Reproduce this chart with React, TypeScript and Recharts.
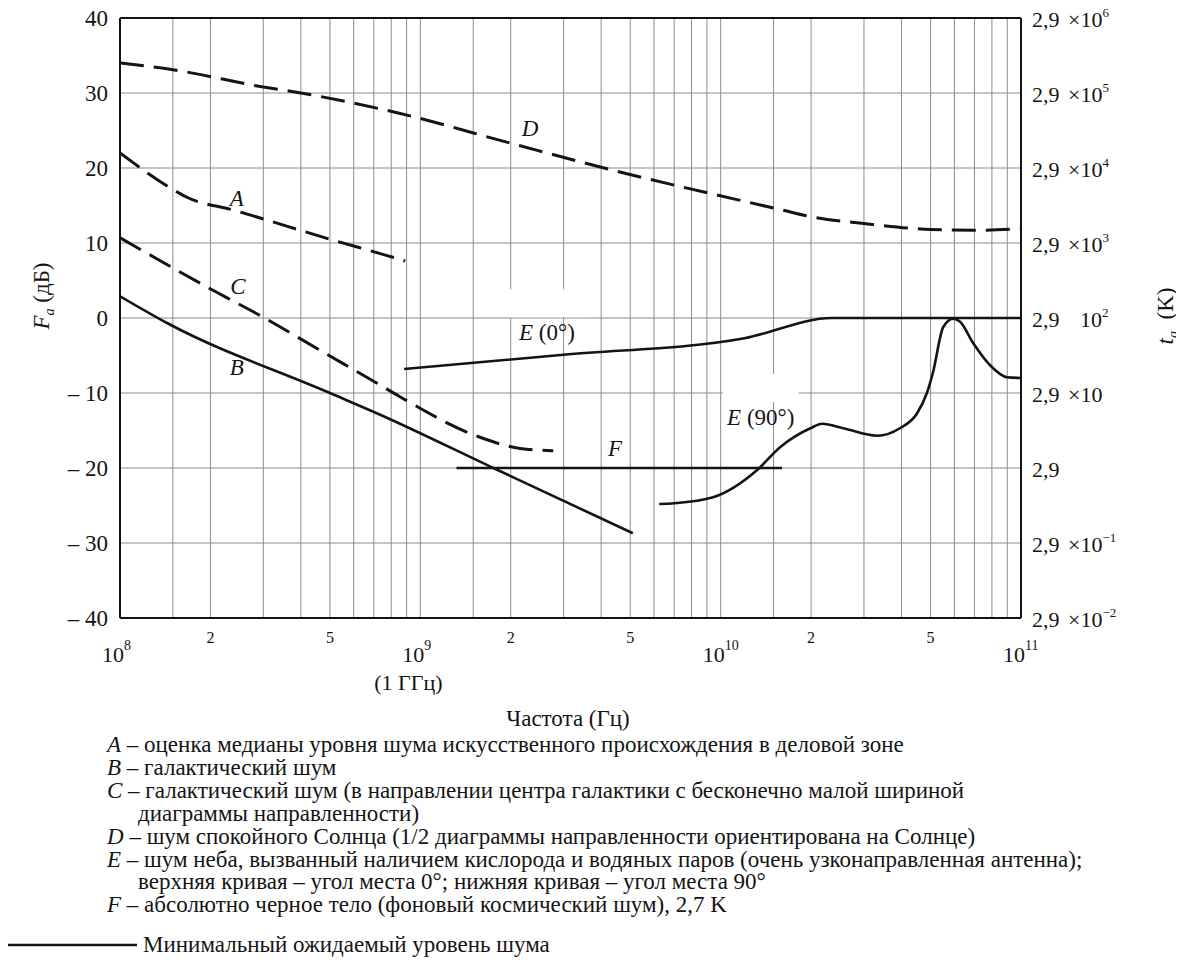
import React from 'react'
import { LineChart, Line, XAxis, YAxis, CartesianGrid, ReferenceLine, ReferenceDot } from 'recharts'

const SERIF = 'Liberation Serif'
const INK = '#141414'

// [frequency Hz, Fa dB]
const curveA = [[1e8, 22], [1.55e8, 16.8], [1.67e8, 16.1], [2.38e8, 14.4], [5.1e8, 10.4], [8.1e8, 8.1], [8.9e8, 7.6]]
const curveB = [[1e8, 2.9], [1.44e8, -0.7], [5e8, -10], [7.35e8, -12.9], [1.75e9, -20], [5.1e9, -28.7]]
const curveC = [[1e8, 10.7], [2.04e8, 3.7], [3e8, 0.1], [4.63e8, -4.3], [7.18e8, -8.7], [8.55e8, -10.5], [1.58e9, -15.9], [2.15e9, -17.4], [2.77e9, -17.7]]
const curveD = [[1e8, 34], [1.5e8, 33.1], [3e8, 30.8], [4e8, 30], [8.5e8, 27.3], [2e9, 23.3], [4e9, 20.1], [1.6e10, 14.4], [2e10, 13.5], [3e10, 12.6], [5e10, 11.8], [7e10, 11.7], [1e11, 11.9]]
const curveE0 = [[8.83e8, -6.8], [3e9, -4.9], [1.2e10, -2.7], [2.35e10, 0], [5e10, 0], [1e11, 0]]
const curveE90 = [[6.24e9, -24.8], [7e9, -24.7], [9.44e9, -23.9], [1.32e10, -20.3], [1.58e10, -17.2], [1.99e10, -14.7], [2.18e10, -14.1], [2.56e10, -14.7], [3.32e10, -15.7], [3.95e10, -14.7], [4.51e10, -12.7], [4.86e10, -10], [5.09e10, -7.3], [5.51e10, -1.2], [5.94e10, -0.1], [6.27e10, -0.5], [6.92e10, -3.3], [7.89e10, -6.3], [8.99e10, -7.9], [1e11, -8]]
const curveF = [[1.32e9, -20], [1.6e10, -20]]

const decades = [1e8, 1e9, 1e10]
const mantissas = [1, 1.5, 2, 3, 4, 5, 6, 7, 8, 9]
const freqTicks = [...decades.flatMap(d => mantissas.map(m => m * d)), 1e11]
const levelTicks = [40, 30, 20, 10, 0, -10, -20, -30, -40]
// right axis: 2,9 x 10^n K for each dB gridline
const kelvinTicks: Record<number, [string, string]> = {
  40: ['×10', '6'], 30: ['×10', '5'], 20: ['×10', '4'], 10: ['×10', '3'],
  0: ['10', '2'], [-10]: ['×10', ''], [-20]: ['', ''], [-30]: ['×10', '−1'], [-40]: ['×10', '−2'],
}

const curveTags = [
  { letter: 'D', suffix: '', f: 2.32e9, v: 25.3 },
  { letter: 'A', suffix: '', f: 2.45e8, v: 16.0 },
  { letter: 'C', suffix: '', f: 2.47e8, v: 4.3 },
  { letter: 'B', suffix: '', f: 2.45e8, v: -6.5 },
  { letter: 'E', suffix: ' (0°)', f: 2.64e9, v: -1.9 },
  { letter: 'E', suffix: ' (90°)', f: 1.36e10, v: -13.2 },
  { letter: 'F', suffix: '', f: 4.45e9, v: -17.3 },
]

const notes = [
  ['A', ' – оценка медианы уровня шума искусственного происхождения в деловой зоне'],
  ['B', ' – галактический шум'],
  ['C', ' – галактический шум (в направлении центра галактики с бесконечно малой шириной'],
  ['', 'диаграммы направленности)'],
  ['D', ' – шум спокойного Солнца (1/2 диаграммы направленности ориентирована на Солнце)'],
  ['E', ' – шум неба, вызванный наличием кислорода и водяных паров (очень узконаправленная антенна);'],
  ['', 'верхняя кривая – угол места 0°; нижняя кривая – угол места 90°'],
  ['F', ' – абсолютно черное тело (фоновый космический шум), 2,7 K'],
]

const pts = (pairs: number[][]) => pairs.map(([f, v]) => ({ f, v }))

function FreqTick({ x, y, payload }: any) {
  const v = payload.value
  const exp = Math.round(Math.log10(v))
  if (Math.abs(v - 10 ** exp) < 1) {
    return (
      <g fill={INK} fontFamily={SERIF}>
        <text x={x + 4} y={y + 44} textAnchor="end" fontSize={22}>10</text>
        <text x={x + 4} y={y + 32} fontSize={14}>{exp}</text>
        {exp === 9 && <text x={x - 12} y={y + 72} textAnchor="middle" fontSize={22}>(1 ГГц)</text>}
      </g>
    )
  }
  const m = Math.round((v / 10 ** Math.floor(Math.log10(v))) * 10) / 10
  if (m === 2 || m === 5) {
    return <text x={x} y={y + 25} textAnchor="middle" fontFamily={SERIF} fontSize={16} fill={INK}>{m}</text>
  }
  return <g />
}

function LevelTick({ x, y, payload }: any) {
  const v = payload.value
  return (
    <text x={x - 12} y={y + 8} textAnchor="end" fontFamily={SERIF} fontSize={23} fill={INK}>
      {v < 0 ? `– ${-v}` : v}
    </text>
  )
}

function KelvinTick({ x, y, payload }: any) {
  const [base, sup] = kelvinTicks[payload.value] ?? ['', '']
  const x0 = x + 11
  return (
    <text y={y + 9} fontFamily={SERIF} fontSize={22} fill={INK}>
      <tspan x={x0}>2,9</tspan>
      {base && <tspan x={base.startsWith('×') ? x0 + 36 : x0 + 48}>{base}</tspan>}
      {sup && <tspan dy={-10} fontSize={13}>{sup}</tspan>}
    </text>
  )
}

function CurveTag(props: any) {
  const { viewBox, letter, suffix } = props
  const cx = (viewBox?.x ?? 0) + (viewBox?.width ?? 0) / 2
  const cy = (viewBox?.y ?? 0) + (viewBox?.height ?? 0) / 2
  const w = suffix.length > 4 ? 76 : 64
  return (
    <g>
      {suffix && <rect x={cx - w / 2} y={cy - 43} width={w} height={28} fill="#fff" />}
      <text x={cx} y={cy + 8} textAnchor="middle" fontFamily={SERIF} fontSize={23} fill={INK}>
        <tspan fontStyle="italic">{letter}</tspan>
        {suffix && <tspan>{suffix}</tspan>}
      </text>
    </g>
  )
}

export default function App() {
  const dash = '24 10'
  return (
    <div style={{ position: 'relative', width: 1176, height: 959 }}>
      <div style={{ position: 'absolute', left: 0, top: -10 }}>
        <LineChart width={1168} height={710} margin={{ top: 20, right: 0, bottom: 0, left: 0 }}>
          <CartesianGrid yAxisId="left" stroke="#8c8c8c" strokeWidth={1} />
          <XAxis dataKey="f" type="number" scale="log" domain={[1e8, 1e11]} ticks={freqTicks} interval={0}
            allowDataOverflow height={90} tickSize={0} tickMargin={0} tick={<FreqTick />}
            axisLine={{ stroke: INK, strokeWidth: 2 }} />
          <YAxis yAxisId="left" type="number" domain={[-40, 40]} ticks={levelTicks} interval={0}
            allowDataOverflow width={112} tickSize={0} tickMargin={0} tick={<LevelTick />}
            axisLine={{ stroke: INK, strokeWidth: 2 }} />
          <YAxis yAxisId="right" orientation="right" type="number" domain={[-40, 40]} ticks={levelTicks} interval={0}
            allowDataOverflow width={155} tickSize={0} tickMargin={0} tick={<KelvinTick />}
            axisLine={{ stroke: INK, strokeWidth: 2 }} />
          <ReferenceLine yAxisId="left" y={40} stroke={INK} strokeWidth={2} />
          <Line yAxisId="left" data={pts(curveD)} dataKey="v" type="monotone" stroke={INK} strokeWidth={3} strokeDasharray={dash} dot={false} isAnimationActive={false} />
          <Line yAxisId="left" data={pts(curveA)} dataKey="v" type="monotone" stroke={INK} strokeWidth={3} strokeDasharray={dash} dot={false} isAnimationActive={false} />
          <Line yAxisId="left" data={pts(curveC)} dataKey="v" type="monotone" stroke={INK} strokeWidth={3} strokeDasharray={dash} dot={false} isAnimationActive={false} />
          <Line yAxisId="left" data={pts(curveB)} dataKey="v" type="monotone" stroke={INK} strokeWidth={2.6} dot={false} isAnimationActive={false} />
          <Line yAxisId="left" data={pts(curveE0)} dataKey="v" type="monotone" stroke={INK} strokeWidth={2.6} dot={false} isAnimationActive={false} />
          <Line yAxisId="left" data={pts(curveE90)} dataKey="v" type="monotone" stroke={INK} strokeWidth={2.6} dot={false} isAnimationActive={false} />
          <Line yAxisId="right" data={pts(curveF)} dataKey="v" type="linear" stroke={INK} strokeWidth={2.6} dot={false} isAnimationActive={false} />
          {curveTags.map((t, i) => (
            <ReferenceDot key={i} yAxisId="left" x={t.f} y={t.v} r={0} fill="none" stroke="none"
              label={<CurveTag letter={t.letter} suffix={t.suffix} />} />
          ))}
        </LineChart>
      </div>
      <svg width={1176} height={967} fill={INK}
        style={{ position: 'absolute', left: 0, top: 0, pointerEvents: 'none' }}>
        <text transform="translate(41,288) rotate(-90)" textAnchor="middle" fontSize={23} fontFamily={SERIF}>
          <tspan fontStyle="italic">F</tspan>
          <tspan fontStyle="italic" fontSize={14} dy={5}>a</tspan>
          <tspan dy={-5}> (дБ)</tspan>
        </text>
        <text transform="translate(1165,308) rotate(-90)" textAnchor="middle" fontSize={23} fontFamily={SERIF}>
          <tspan fontStyle="italic">t</tspan>
          <tspan fontStyle="italic" fontSize={14} dy={5}>a</tspan>
          <tspan dy={-5}>{'\u2002(K)'}</tspan>
        </text>
        <line x1={0} x2={129} y1={937} y2={937} stroke={INK} strokeWidth={2.5} />
      </svg>
      <div style={{ position: 'absolute', left: 460, top: 699, width: 200, textAlign: 'center', fontFamily: SERIF, fontSize: 23, lineHeight: '23px', whiteSpace: 'nowrap', color: INK }}>
        Частота (Гц)
      </div>
      {notes.map(([letter, rest], i) => (
        <div key={i} style={{ position: 'absolute', left: letter ? 99 : 130, top: 725 + i * 22.9, fontFamily: SERIF, fontSize: 23, lineHeight: '23px', whiteSpace: 'nowrap', color: INK }}>
          {letter && <i>{letter}</i>}{rest}
        </div>
      ))}
      <div style={{ position: 'absolute', left: 135, top: 925, fontFamily: SERIF, fontSize: 23, lineHeight: '23px', whiteSpace: 'nowrap', color: INK }}>
        Минимальный ожидаемый уровень шума
      </div>
    </div>
  )
}
